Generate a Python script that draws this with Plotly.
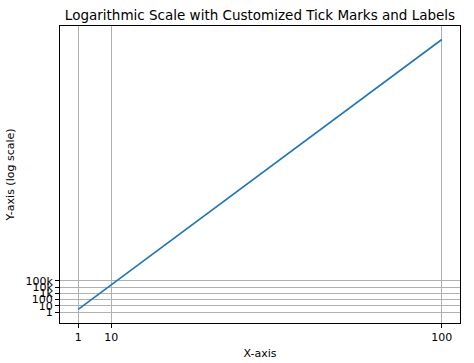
import plotly.graph_objects as go

x_values = [1, 100]
y_values = [2.72, 2.69e43]
x_ticks = [1, 10, 100]
y_tick_vals = [1, 10, 100, 1000, 10000, 100000]
y_tick_text = ["1", "10", "100", "1k", "10k", "100k"]

fig = go.Figure()
fig.add_trace(go.Scatter(x=x_values, y=y_values, mode="lines",
                         line=dict(color="#1f77b4", width=1.6), showlegend=False))

font = "DejaVu Sans"
fig.update_layout(
    width=474, height=363,
    margin=dict(l=60, r=14, t=26, b=40, autoexpand=False),
    paper_bgcolor="white", plot_bgcolor="white",
    font=dict(family=font, size=11, color="black"),
    title=dict(text="Logarithmic Scale with Customized Tick Marks and Labels",
               x=0.5, xanchor="center", y=1 - 15/363, yanchor="middle",
               xref="paper",
               font=dict(family=font, size=13.5, color="black")),
)
fig.update_xaxes(
    range=[-3.95, 104.95], tickvals=x_ticks, ticktext=[str(v) for v in x_ticks],
    showgrid=True, gridcolor="#b0b0b0", gridwidth=0.8, automargin=False,
    showline=True, linecolor="black", linewidth=1, mirror=True,
    ticks="outside", ticklen=4, tickcolor="black", zeroline=False,
    title=dict(text="X-axis", standoff=6, font=dict(family=font, size=11)),
)
fig.update_yaxes(
    type="log", range=[-1.72, 45.58], tickvals=y_tick_vals, ticktext=y_tick_text,
    showgrid=True, gridcolor="#b0b0b0", gridwidth=0.8, automargin=False,
    showline=True, linecolor="black", linewidth=1, mirror=True,
    ticks="outside", ticklen=4, tickcolor="black", zeroline=False,
    title=dict(text="Y-axis (log scale)", standoff=8, font=dict(family=font, size=11)),
)
fig.write_html(
    "out.html",
    config={"displayModeBar": False},
    post_script="document.body.style.margin='0';document.body.style.overflow='hidden';",
)
